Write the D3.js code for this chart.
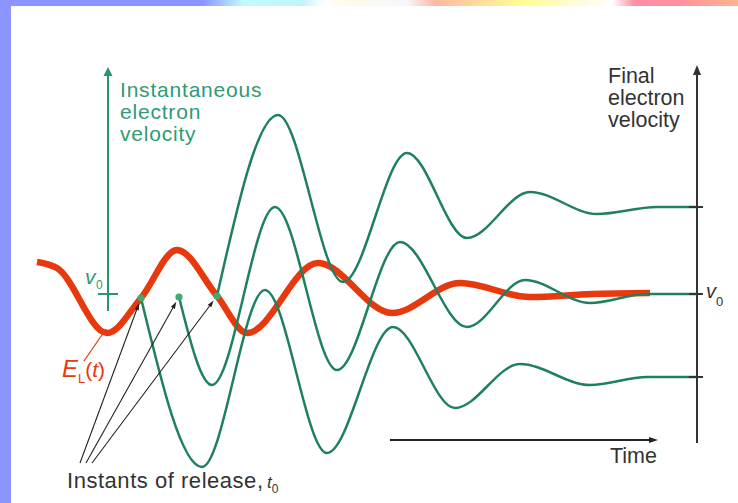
<!DOCTYPE html>
<html><head><meta charset="utf-8">
<script src="https://cdn.jsdelivr.net/npm/d3@7"></script>
<style>body{margin:0;background:#fff}svg{display:block}text{font-family:"Liberation Sans",Arial,Helvetica,sans-serif}</style>
</head><body><svg id="c" width="738" height="503"></svg>
<script>
// ---- data (time in arbitrary units, velocity relative to v0) ----
const fieldT = [0, 2.0, 7.0, 10.4, 14.0, 18.0, 21.0, 28.1, 35.5, 42.3, 49.3, 55.5, 61.3];
const fieldV = [3.2, 2.6, -3.9, -0.4, 4.4, -0.2, -3.9, 3.1, -1.9, 1.1, -0.3, 0.0, 0.1];

const curveA_T = [18.0, 24.1, 30.6, 37.0, 43.0, 49.3, 56.0, 62.0, 66.0];
const curveA_V = [-0.2, 17.9, 1.2, 14.1, 5.6, 10.2, 8.0, 8.7, 8.7];
const curveB_T = [14.2, 17.5, 23.8, 30.0, 36.3, 43.0, 48.8, 55.3, 61.0, 66.0];
const curveB_V = [-0.3, -9.1, 8.7, -7.6, 5.2, -3.3, 1.4, -0.9, 0.0, 0.0];
const curveC_T = [10.4, 16.5, 22.8, 29.0, 35.6, 41.8, 48.3, 55.3, 61.0, 66.0];
const curveC_V = [-0.4, -17.3, 0.4, -15.9, -3.3, -11.4, -7.0, -9.1, -8.3, -8.3];

const finalV = [8.7, 0, -8.3];
const labelsLeft = ["Instantaneous", "electron", "velocity"];
const labelsRight = ["Final", "electron", "velocity"];

// ---- scales ----
const W = 738, H = 503;
const x = d3.scaleLinear().domain([0, 66]).range([37, 697]);
const y = d3.scaleLinear().domain([-18, 23]).range([474, 64]);

const svg = d3.select("#c");
const defs = svg.append("defs");
const g = defs.append("linearGradient").attr("id","topg").attr("x1",0).attr("x2",1).attr("y1",0).attr("y2",0);
[[0,"#8c94ff"],[0.275,"#8c94ff"],[0.33,"#c2fbff"],[0.41,"#bff4fa"],[0.44,"#ffffff"],[0.47,"#fffbe6"],[0.55,"#f7f7fb"],[0.59,"#ffb8a4"],[0.64,"#ffd79a"],[0.71,"#ffff94"],[0.79,"#fffbe0"],[0.83,"#ffffff"],[0.86,"#ff8da6"],[0.92,"#ff90a0"],[1,"#ffb48e"]]
  .forEach(s => g.append("stop").attr("offset", s[0]).attr("stop-color", s[1]));

svg.append("rect").attr("x",0).attr("y",0).attr("width",W).attr("height",H).attr("fill","#fff");
svg.append("rect").attr("x",0).attr("y",0).attr("width",W).attr("height",6).attr("fill","url(#topg)");
svg.append("rect").attr("x",0).attr("y",0).attr("width",11).attr("height",H).attr("fill","#8c94ff");

function arrow(x1,y1,x2,y2,color,w,hl,hw){
  const dx=x2-x1, dy=y2-y1, L=Math.hypot(dx,dy), ux=dx/L, uy=dy/L;
  const bx=x2-ux*hl, by=y2-uy*hl;
  svg.append("line").attr("x1",x1).attr("y1",y1).attr("x2",bx+ux*1).attr("y2",by+uy*1)
    .attr("stroke",color).attr("stroke-width",w);
  svg.append("path").attr("d",`M${x2},${y2}L${bx-uy*hw/2},${by+ux*hw/2}L${bx+uy*hw/2},${by-ux*hw/2}Z`).attr("fill",color);
}

const green = "#1f8060", gtext = "#2e9a76", dark = "#333333", red = "#e8390e";

// left (instantaneous) axis
const axT = 7.1;
arrow(x(axT), y(-1.7), x(axT), y(22.7), "#2a9470", 2, 9, 9);
svg.append("line").attr("x1",x(axT)-10).attr("x2",x(axT)+10).attr("y1",y(0)).attr("y2",y(0))
  .attr("stroke","#2a9470").attr("stroke-width",2);
svg.append("text").attr("x",85).attr("y",284).attr("fill",gtext).attr("font-size",21)
  .html('<tspan font-style="italic">v</tspan><tspan font-size="12" dy="5" dx="0.5">0</tspan>');
const tl = svg.append("text").attr("x",120).attr("y",97).attr("fill",gtext).attr("font-size",21).attr("letter-spacing",0.8);
labelsLeft.forEach((t,i)=> tl.append("tspan").attr("x",120).attr("dy", i ? 22 : 0).text(t));

// right (final) axis
arrow(x(66), y(-14.9), x(66), y(22.9), "#333", 2, 10, 8);
const tr = svg.append("text").attr("x",608).attr("y",83).attr("fill",dark).attr("font-size",21.5);
labelsRight.forEach((t,i)=> tr.append("tspan").attr("x",608).attr("dy", i ? 22 : 0).text(t));

// time arrow
arrow(x(35.3), y(-14.6), x(62.1), y(-14.6), "#222", 2, 9, 6);
svg.append("text").attr("x",610).attr("y",463).attr("fill",dark).attr("font-size",21.5).text("Time");

// field E_L(t)
const line = d3.line().x(d=>x(d[0])).y(d=>y(d[1])).curve(d3.curveMonotoneX);
svg.append("path").datum(d3.zip(fieldT, fieldV)).attr("d", line)
  .attr("fill","none").attr("stroke",red).attr("stroke-width",6.5).attr("stroke-linecap","butt");

// electron velocity curves
const curves = [d3.zip(curveA_T,curveA_V), d3.zip(curveB_T,curveB_V), d3.zip(curveC_T,curveC_V)];
curves.forEach(c => svg.append("path").datum(c).attr("d", line)
  .attr("fill","none").attr("stroke",green).attr("stroke-width",2.5));

// final ticks
finalV.forEach(v => svg.append("line").attr("x1",x(66)-8).attr("x2",x(66)+6).attr("y1",y(v)).attr("y2",y(v))
  .attr("stroke","#333").attr("stroke-width",2));
svg.append("text").attr("x",706).attr("y",298).attr("fill",dark).attr("font-size",20)
  .html('<tspan font-style="italic">v</tspan><tspan font-size="13" dy="8">0</tspan>');

// E_L(t) label and leader
svg.append("line").attr("x1",84).attr("y1",361).attr("x2",x(6.9)).attr("y2",y(-3.9)-4)
  .attr("stroke",red).attr("stroke-width",1.3);
svg.append("text").attr("x",62).attr("y",377).attr("fill",red).attr("font-size",24)
  .html('<tspan font-style="italic">E</tspan><tspan font-size="13" dy="6">L</tspan><tspan font-size="21" dy="-6">(</tspan><tspan font-size="21" font-style="italic">t</tspan><tspan font-size="21">)</tspan>');

// release arrows
const starts = [[80,463],[86,463],[92,463]];
const dots = [curves[2][0], curves[1][0], curves[0][0]];
dots.forEach((d,i)=>{
  const px = x(d[0]), py = y(d[1]);
  const sx = starts[i][0], sy = starts[i][1];
  const L = Math.hypot(px-sx, py-sy);
  arrow(sx, sy, px-(px-sx)/L*5.5, py-(py-sy)/L*5.5, "#222", 1.1, 7, 4.5);
});
dots.forEach(d => svg.append("circle").attr("cx",x(d[0])).attr("cy",y(d[1])).attr("r",3.6).attr("fill","#3fab6e"));

svg.append("text").attr("x",67).attr("y",488).attr("fill",dark).attr("font-size",22)
  .attr("textLength",196).attr("lengthAdjust","spacing").text("Instants of release,");
svg.append("text").attr("x",267).attr("y",488).attr("fill",dark).attr("font-size",17)
  .html('<tspan font-style="italic">t</tspan><tspan font-size="12" dy="5">0</tspan>');
</script></body></html>
